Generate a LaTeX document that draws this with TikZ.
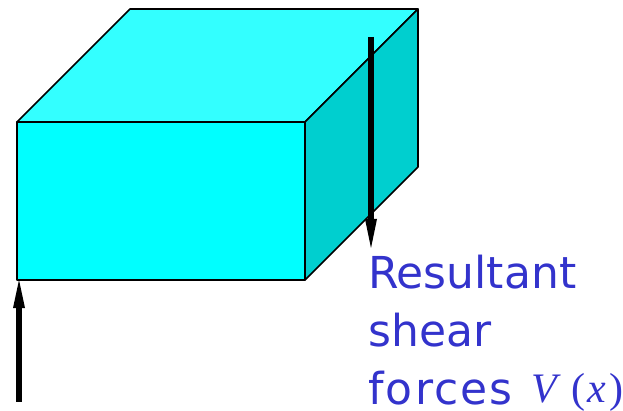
\documentclass[tikz,border=0pt]{standalone}
\usepackage{fontspec}
\setmainfont{DejaVu Sans}
\newfontfamily\serifit{Liberation Serif}
\newfontfamily\widesans[LetterSpace=5]{DejaVu Sans}
\definecolor{topc}{HTML}{33FFFF}
\definecolor{frontc}{HTML}{00FFFF}
\definecolor{sidec}{HTML}{00CFCF}
\definecolor{labelc}{HTML}{3333CC}
\tikzset{face/.style={draw=black,line width=1.6pt,line join=round},
force/.style={line width=5.5pt,black},
tipb/.style={draw=none,fill=black},
lab/.style={anchor=base west,inner sep=0pt,text=labelc,font=\fontsize{44pt}{44pt}\selectfont}}
\begin{document}
\begin{tikzpicture}[x=1pt,y=-1pt]
\useasboundingbox (0,0) rectangle (623,411);
\coordinate (a) at (17,122);
\coordinate (b) at (305,122);
\coordinate (c) at (305,280);
\coordinate (d) at (17,280);
\coordinate (e) at (130,9);
\coordinate (f) at (418,9);
\coordinate (g) at (418,167);
\draw[face,fill=topc] (a) -- (e) -- (f) -- (b) -- cycle;
\draw[face,fill=sidec] (b) -- (f) -- (g) -- (c) -- cycle;
\draw[face,fill=frontc] (a) -- (b) -- (c) -- (d) -- cycle;
\coordinate (r1) at (371,37);
\coordinate (r2) at (371,219);
\coordinate (r3) at (371,248);
\coordinate (r4) at (365,219);
\coordinate (r5) at (377,219);
\draw[force] (r1) -- (r2);
\fill[tipb] (r3) -- (r4) -- (r5) -- cycle;
\coordinate (l1) at (19,401.5);
\coordinate (l2) at (19,308);
\coordinate (l3) at (19,280);
\coordinate (l4) at (13,308);
\coordinate (l5) at (25,308);
\draw[force] (l1) -- (l2);
\fill[tipb] (l3) -- (l4) -- (l5) -- cycle;
\node[lab] (t1) at (368,288) {Resultant};
\node[lab] (t2) at (368,346) {shear};
\node[lab] (t3) at (368,404.5) {{\widesans forces}\hspace{19pt}\fontsize{42pt}{42pt}\selectfont\smash{\raisebox{2pt}{\serifit\itshape V\hspace{14pt}\upshape(\hspace{2pt}\itshape x\hspace{3pt}\upshape)}}};
\end{tikzpicture}
\end{document}
